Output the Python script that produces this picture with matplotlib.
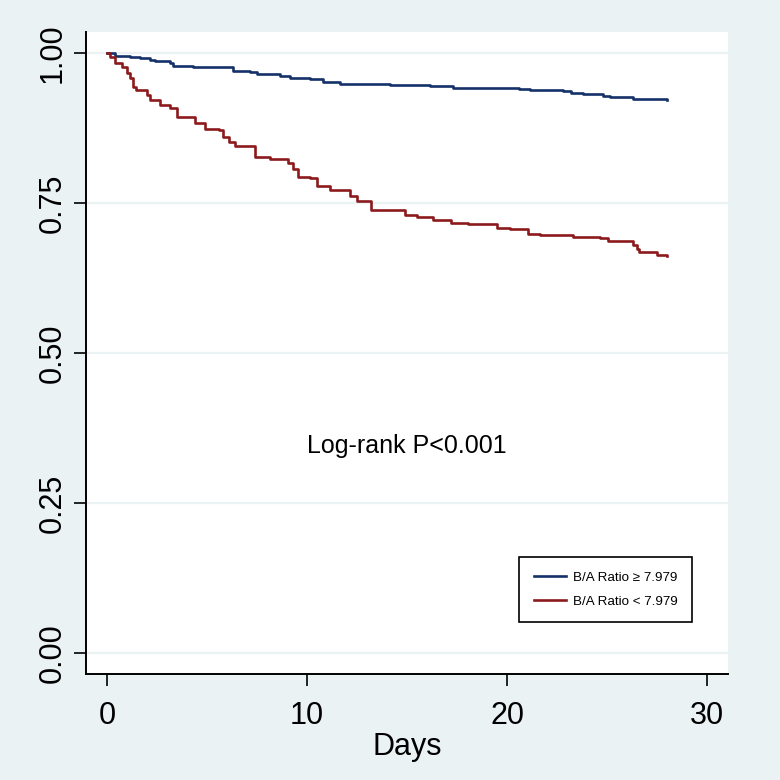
import numpy as np
import matplotlib
matplotlib.use('Agg')
import matplotlib.pyplot as plt

plt.rcParams['font.family'] = ['Liberation Sans', 'DejaVu Sans']

# Kaplan-Meier estimates (step changes)
days_hi = [0, 0.4, 1.15, 1.65, 2.15, 2.4, 3.15, 3.3, 4.3, 4.65, 6.3, 7.15, 7.5, 8.65,
           9.15, 10.15, 10.8, 11.65, 12.15, 14.15, 16.15, 17.3, 19.3, 20.6, 21.15,
           22.8, 23.2, 23.8, 24.8, 25.15, 25.65, 26.3, 27.8, 28.0]
surv_hi = [1.0, 0.995, 0.994, 0.991, 0.988, 0.986, 0.983, 0.979, 0.977, 0.976, 0.970,
           0.968, 0.965, 0.962, 0.958, 0.956, 0.951, 0.949, 0.948, 0.947, 0.945, 0.942,
           0.941, 0.940, 0.938, 0.937, 0.934, 0.932, 0.929, 0.927, 0.926, 0.924, 0.923,
           0.922]

days_lo = [0, 0.15, 0.4, 0.73, 1.0, 1.15, 1.3, 1.45, 2.0, 2.15, 2.65, 3.15, 3.5, 4.4,
           4.9, 5.6, 5.8, 6.1, 6.4, 7.4, 8.15, 9.07, 9.3, 9.57, 10.15, 10.5, 11.15,
           12.15, 12.5, 13.2, 14.9, 15.5, 16.3, 17.2, 18.07, 19.5, 20.15, 21.07, 21.65,
           23.3, 24.65, 25.07, 26.3, 26.5, 26.6, 27.5, 27.9, 28.0]
surv_lo = [1.0, 0.994, 0.983, 0.976, 0.966, 0.958, 0.944, 0.938, 0.930, 0.922, 0.913,
           0.909, 0.893, 0.884, 0.874, 0.871, 0.860, 0.852, 0.845, 0.827, 0.824, 0.817,
           0.806, 0.794, 0.791, 0.778, 0.772, 0.761, 0.754, 0.738, 0.730, 0.727, 0.721,
           0.717, 0.715, 0.709, 0.706, 0.699, 0.697, 0.694, 0.691, 0.687, 0.680, 0.674,
           0.669, 0.664, 0.663, 0.661]

labels = ['B/A Ratio \u2265 7.979', 'B/A Ratio < 7.979']
yticks = [0, 0.25, 0.5, 0.75, 1.0]
xticks = [0, 10, 20, 30]

bg = '#EAF2F3'
fig = plt.figure(figsize=(7.8, 7.8), dpi=100, facecolor=bg)
ax = fig.add_axes([86/780, 1-674/780, (728-86)/780, (674-32)/780])
ax.set_facecolor('white')

for v in yticks:
    ax.axhline(v, color=bg, lw=1.6, zorder=0)

ax.step(days_hi, surv_hi, where='post', color='#15316a', lw=1.9, label=labels[0])
ax.step(days_lo, surv_lo, where='post', color='#8c1a1c', lw=1.9, label=labels[1])

ax.set_xlim(-1.05, 31.05)
ax.set_ylim(-0.035, 1.035)
ax.set_xticks(xticks)
ax.set_yticks(yticks)
ax.set_yticklabels(['%.2f' % v for v in yticks], rotation=90, va='center')
ax.tick_params(axis='both', length=8.5, width=1.2, labelsize=22, color='black')
ax.tick_params(axis='y', pad=5)
ax.tick_params(axis='x', pad=11)

for s in ['top', 'right']:
    ax.spines[s].set_visible(False)
for s in ['left', 'bottom']:
    ax.spines[s].set_linewidth(1.4)

ax.set_xlabel('Days', fontsize=22, labelpad=1)

ax.text(15, 0.345, 'Log-rank P<0.001', fontsize=18, ha='center', va='center')

leg = ax.legend(loc='upper left', bbox_to_anchor=(519/780, 1-557/780),
                bbox_transform=fig.transFigure, fontsize=9.6, handlelength=2.4,
                fancybox=False, framealpha=1, edgecolor='black',
                borderpad=1.1, labelspacing=0.85, handletextpad=0.55, borderaxespad=0)
leg.get_frame().set_linewidth(1.2)

fig.savefig('out.png', dpi=100, facecolor=bg)
